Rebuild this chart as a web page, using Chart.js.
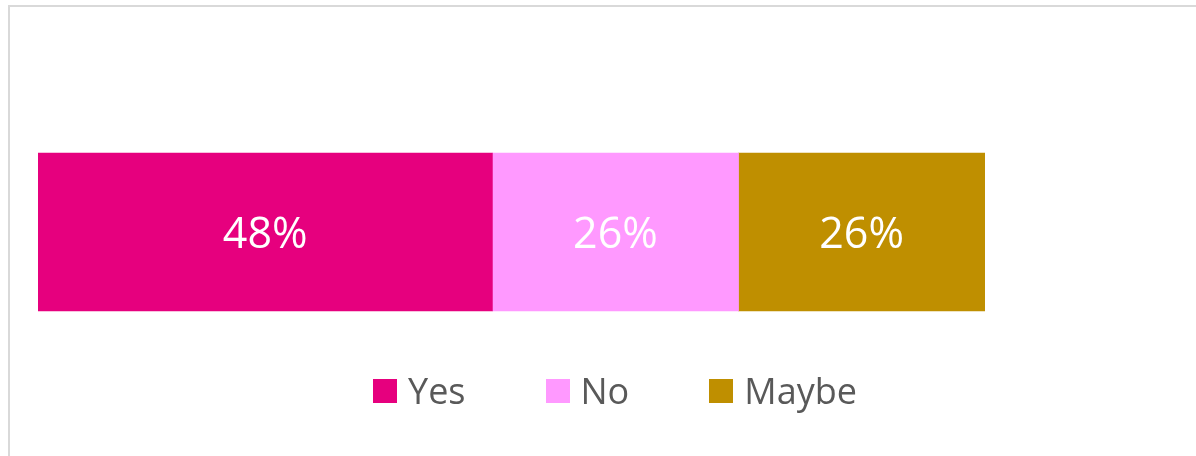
<!DOCTYPE html>
<html lang="en">
<head>
  <meta charset="UTF-8">
  <title>Yes / No / Maybe</title>
  <script src="https://cdn.jsdelivr.net/npm/chart.js"></script>
  <style>
    body { margin: 0; background: #fff; }
    #wrap { position: relative; width: 1196px; height: 456px; overflow: hidden; }
    #frame { position: absolute; left: 8px; top: 5px; width: 1300px; height: 600px;
             border-left: 2px solid #d9d9d9; border-top: 2px solid #d9d9d9; }
    #answerChart { position: absolute; left: 0; top: 0; }
    #legend { position: absolute; left: 373px; top: 366px; display: flex; align-items: center;
              font-family: "Open Sans", sans-serif; font-size: 36px; color: #595959; }
    #legend .item { display: flex; align-items: center; margin-right: 80px; }
    #legend .box { width: 24px; height: 24px; margin-right: 11px; }
  </style>
</head>
<body>
  <div id="wrap">
    <div id="frame"></div>
    <canvas id="answerChart" width="1196" height="456"></canvas>
    <div id="legend"></div>
  </div>

  <script>
    // data
    const categories = ['Answers'];
    const seriesNames = ['Yes', 'No', 'Maybe'];
    const seriesValues = [48, 26, 26];
    const seriesColors = ['#E6007E', '#FF99FF', '#BF8F00'];

    // white % labels in the middle of each segment
    const barLabels = {
      id: 'barLabels',
      afterDatasetsDraw(chart) {
        const ctx = chart.ctx;
        ctx.save();
        ctx.fillStyle = '#ffffff';
        ctx.font = '43px "Open Sans", sans-serif';
        ctx.textAlign = 'center';
        ctx.textBaseline = 'middle';
        chart.data.datasets.forEach((ds, i) => {
          chart.getDatasetMeta(i).data.forEach((bar, j) => {
            const p = bar.getCenterPoint();
            ctx.fillText(ds.data[j] + '%', p.x, p.y + 4);
          });
        });
        ctx.restore();
      }
    };

    const ctx = document.getElementById('answerChart').getContext('2d');
    const chart = new Chart(ctx, {
      type: 'bar',
      data: {
        labels: categories,
        datasets: seriesNames.map((name, i) => ({
          label: name,
          data: [seriesValues[i]],
          backgroundColor: seriesColors[i],
          borderWidth: 0,
          barThickness: 158
        }))
      },
      options: {
        indexAxis: 'y',
        responsive: false,
        animation: false,
        layout: { padding: { left: 38, right: 22, top: 100, bottom: 92 } },
        scales: {
          x: { stacked: true, min: 0, max: 120, display: false },
          y: { stacked: true, display: false }
        },
        plugins: {
          legend: { display: false },
          tooltip: { enabled: false }
        }
      },
      plugins: [barLabels]
    });

    // legend built from the same series arrays
    const legendEl = document.getElementById('legend');
    seriesNames.forEach((name, i) => {
      const item = document.createElement('div');
      item.className = 'item';
      const box = document.createElement('span');
      box.className = 'box';
      box.style.background = seriesColors[i];
      const txt = document.createElement('span');
      txt.textContent = name;
      item.appendChild(box);
      item.appendChild(txt);
      legendEl.appendChild(item);
    });
  </script>
</body>
</html>
